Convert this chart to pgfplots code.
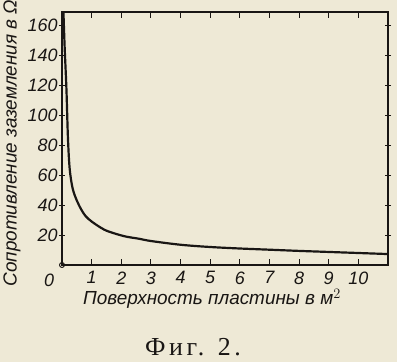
\documentclass[border=0pt]{standalone}
\usepackage{pgfplots}
\pgfplotsset{compat=1.18}
\usepackage{fontspec}
\setmainfont{Liberation Sans}
\newfontfamily\capfont[LetterSpace=14]{Liberation Serif}
\definecolor{paper}{RGB}{238,233,214}
\definecolor{ink}{RGB}{25,22,20}
\begin{document}
\begin{tikzpicture}[x=1bp,y=1bp]
\fill[paper] (0,0) rectangle (397,362);
\clip (0,0) rectangle (397,362);
\begin{axis}[
  at={(62bp,97bp)}, anchor=south west,
  width=326bp, height=253bp, scale only axis,
  xmin=0, xmax=11.0, ymin=0, ymax=168.7,
  xtick={1,...,10}, ytick={20,40,...,160},
  axis line style={ink, line width=1.6pt},
  every tick/.style={ink, line width=1pt},
  xtick align=inside, ytick align=center,
  major tick length=6bp,
  xtick pos=both, ytick pos=both,
  yticklabel pos=left, xticklabel pos=bottom,
  /pgf/number format/assume math mode=true,
  ticklabel style={font=\fontsize{18}{19}\selectfont\itshape, text=ink},
  xticklabel style={yshift=-3bp},
  yticklabel style={xshift=2bp},
  clip=false,
]
\addplot[ink, line width=2.2pt, smooth, tension=0.55] coordinates {
(0.05,168) (0.09,145) (0.15,117) (0.2,85) (0.26,64) (0.36,51) (0.5,43)
(0.65,37) (0.8,32.5) (1.0,29) (1.3,25) (1.55,22.5) (2.1,19.2) (2.6,17.5)
(3,16) (4,13.5) (5,12) (6,11) (7,10.2) (8,9.4) (9,8.7) (10,8) (11.0,7.3)
};
\addplot[only marks, mark=o, mark size=2.5bp, mark options={fill=paper, draw=ink, line width=0.9pt}] coordinates {(0,0)};
\end{axis}
\node[text=ink, font=\fontsize{18}{19}\selectfont\itshape] at (49,82) {0};
\node[text=ink, font=\fontsize{19}{20}\selectfont\itshape] at (212,63) {Поверхность пластины в м$^2$};
\node[text=ink, rotate=90, anchor=west, font=\fontsize{19}{20}\selectfont\itshape] at (12,72) {Сопротивление заземления в Ω};
\node[text=ink, inner sep=0pt, anchor=base, font=\fontsize{26}{27}\selectfont\capfont] at (193,7) {Фиг. 2.};
\end{tikzpicture}
\end{document}
